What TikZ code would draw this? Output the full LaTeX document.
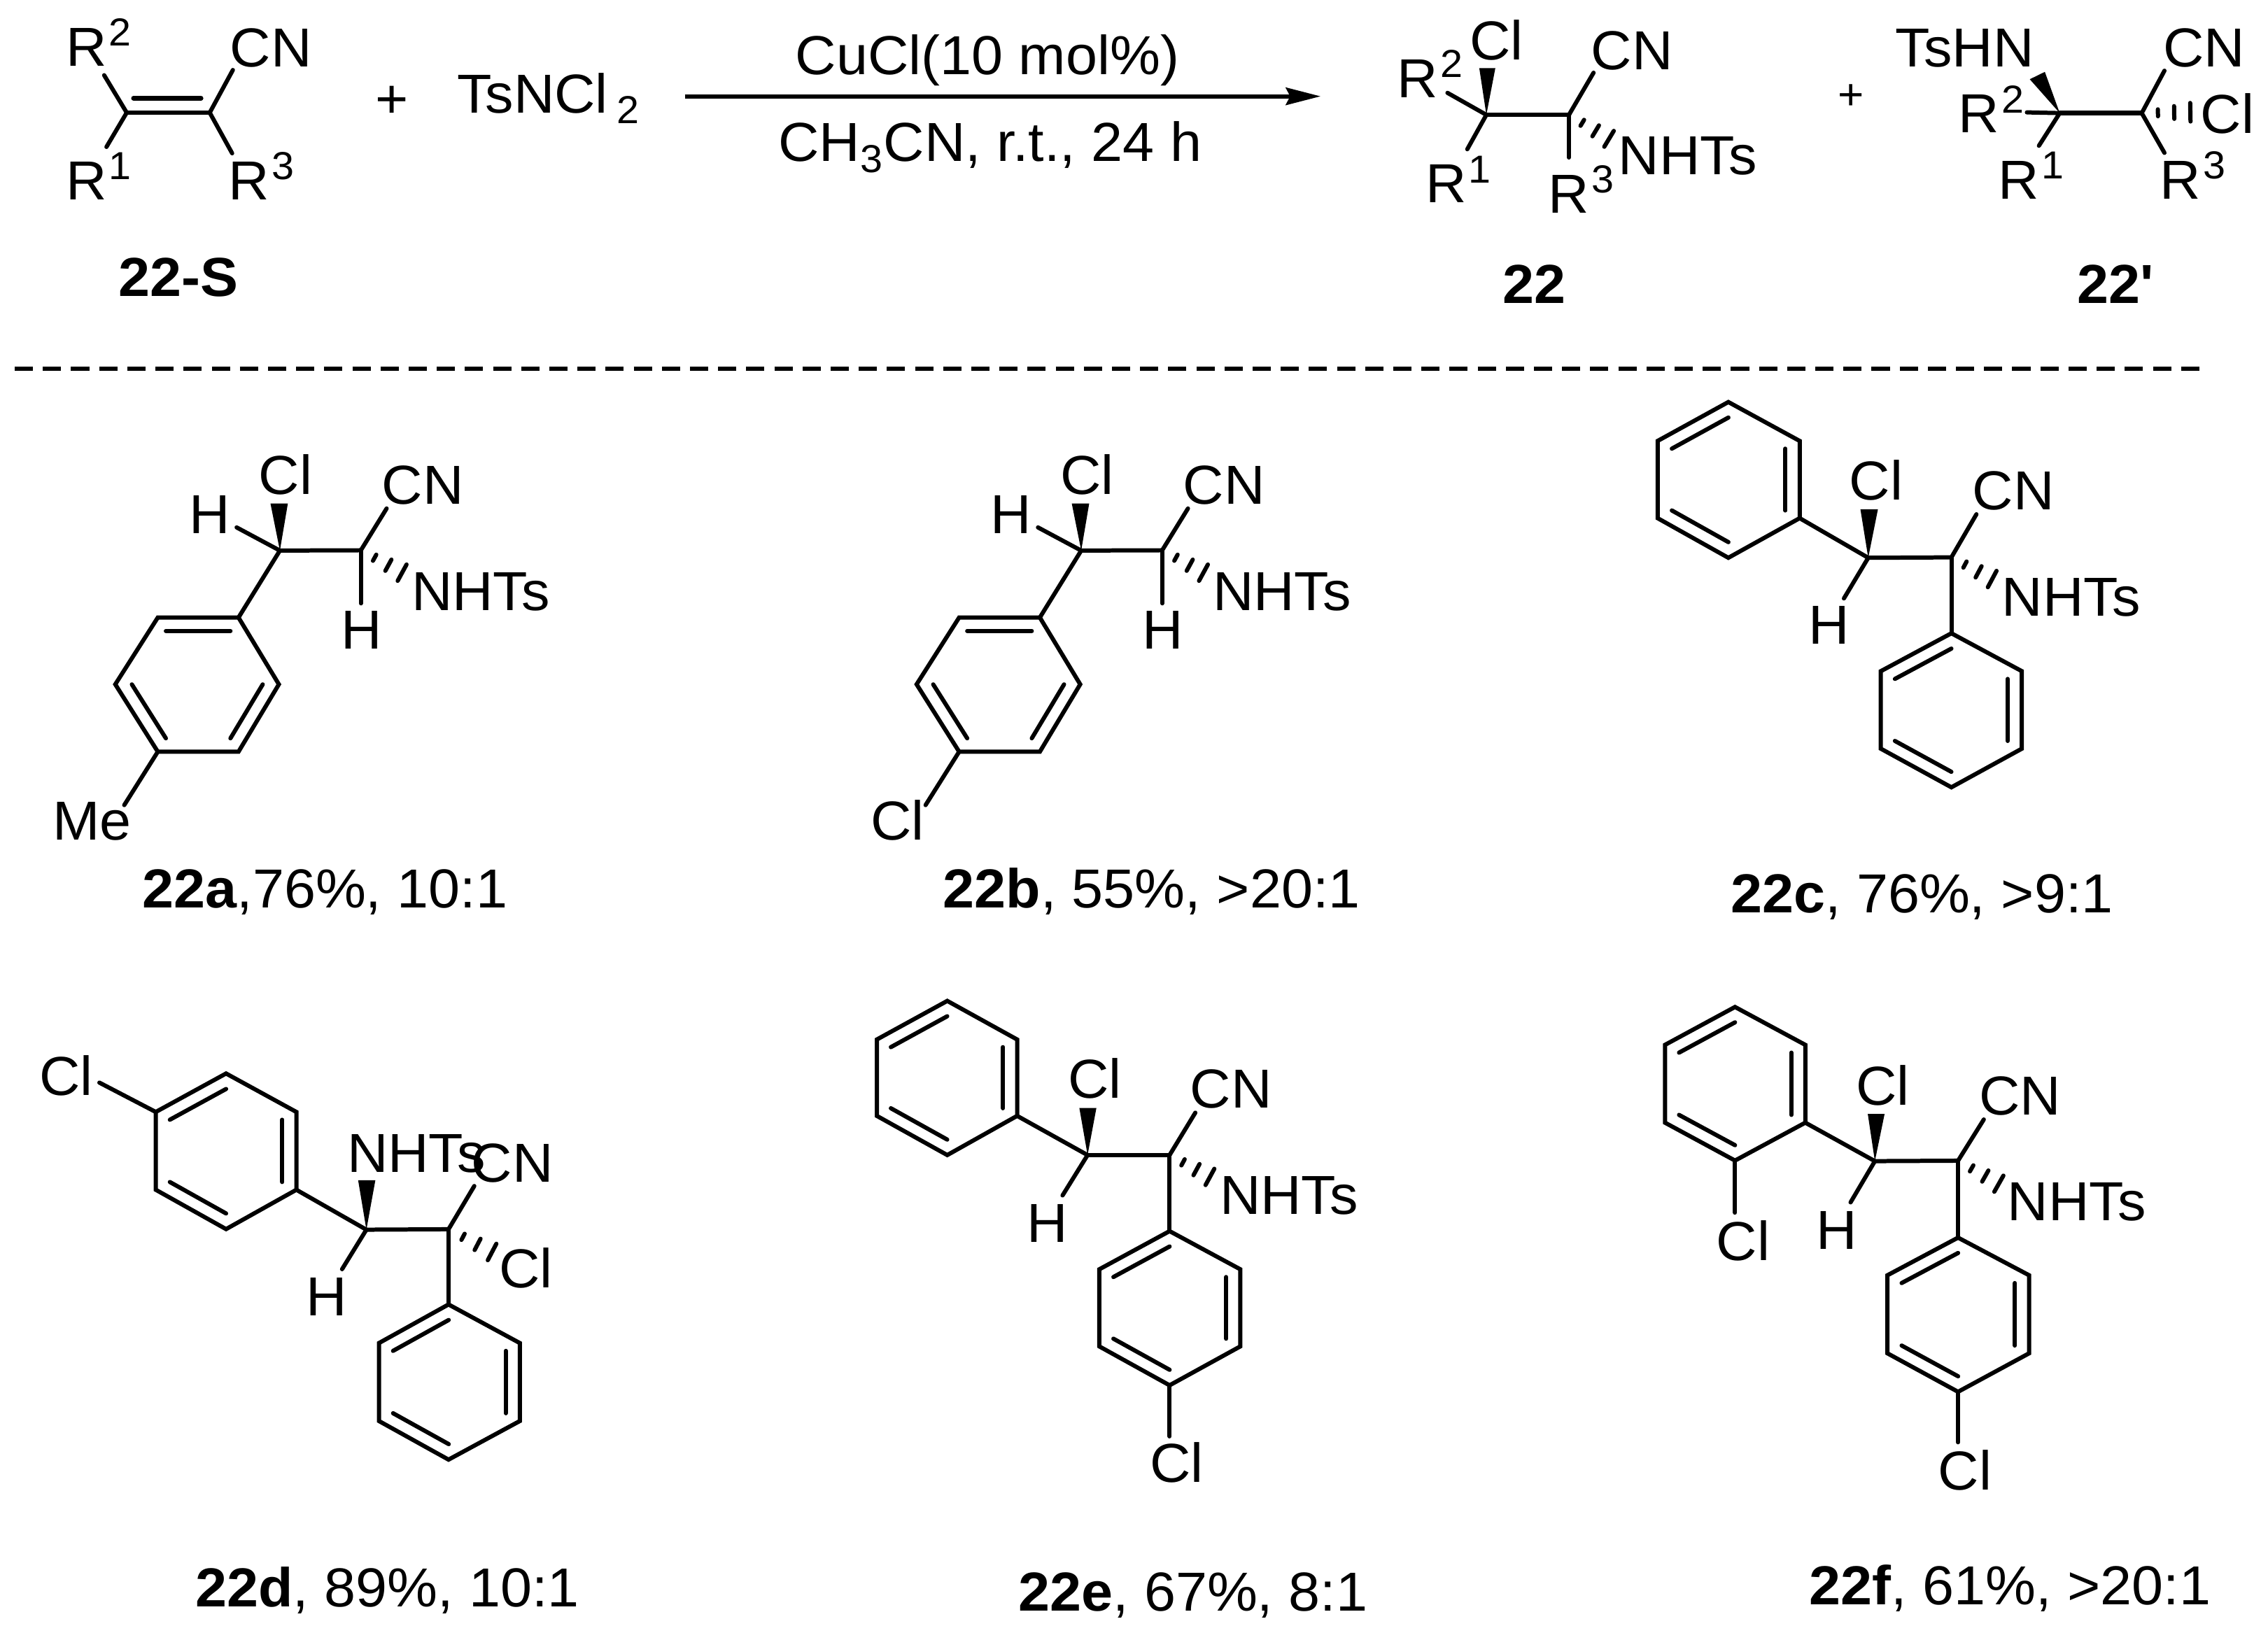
\documentclass[tikz,border=0pt]{standalone}
\usepackage{fontspec}
\setmainfont[FakeStretch=1.03]{Liberation Sans}
\newfontfamily\rawsans[FakeStretch=1.03]{Liberation Sans}
\usetikzlibrary{calc,arrows.meta}
\tikzset{
  lab/.style={inner sep=0pt,outer sep=0pt,anchor=base west,font=\fontsize{38}{44}\selectfont},
  bond/.style={line width=2.9pt,line cap=round,line join=miter,draw=black},
  hashbar/.style={line width=2.9pt,line cap=round,draw=black},
  midbond/.style={line width=3.2pt,line cap=round,draw=black},
  sep/.style={line width=2.9pt,dash pattern=on 12.6pt off 6.85pt,draw=black},
  rxn/.style={line width=2.9pt,draw=black,-{Stealth[length=24pt,width=12pt,inset=3pt]}},
}
\newcommand\Lab[4]{\node[lab] (#1) at (#2,#3) {#4};}
\newcommand\SupN[1]{\hspace{1.5pt}\raisebox{14pt}{\fontsize{27}{27}\selectfont #1}}
\newcommand\SubN[1]{\hspace{6pt}\raisebox{-7.5pt}{\fontsize{27}{27}\selectfont #1}}
\newcommand\Bd[3]{\coordinate (#2) at (#3);\draw[bond] (#1) -- (#2);}
\newcommand\Wedge[4]{\fill[black] (#1) -- (#3) -- (#4) -- cycle;\coordinate (#2) at ($(#3)!.5!(#4)$);}
\newcommand\HashW[2]{%
  \coordinate (hfar) at ($(#1)!2!(#2)$);
  \foreach \f/\h in {.333/2.4,.667/4.4,1/6.4}{%
    \coordinate (hc) at ($(#1)!\f!(#2)$);
    \draw[hashbar] ($(hc)!\h pt!90:(hfar)$) -- ($(hc)!\h pt!-90:(hfar)$);
  }}
\newcommand\Ring[7]{%
  \coordinate (#1a) at (#2);\coordinate (#1b) at (#3);\coordinate (#1c) at (#4);
  \coordinate (#1d) at (#5);\coordinate (#1e) at (#6);\coordinate (#1f) at (#7);
  \coordinate (#1o) at ($(#1a)!.5!(#1d)$);
  \draw[bond] (#1a) -- (#1b) -- (#1c) -- (#1d) -- (#1e) -- (#1f) -- cycle;
  \draw[bond] ($(#1o)!.8!(#1a)$) -- ($(#1o)!.8!(#1b)$);
  \draw[bond] ($(#1o)!.8!(#1c)$) -- ($(#1o)!.8!(#1d)$);
  \draw[bond] ($(#1o)!.8!(#1e)$) -- ($(#1o)!.8!(#1f)$);
}
\begin{document}
\begin{tikzpicture}[x=1pt,y=-1pt]
\path[fill=white,use as bounding box] (0,0) rectangle (1568,1124);

% ---- substrate 22-S
\coordinate (sA) at (87.6,77.9);\coordinate (sB) at (145,77.9);
\draw[midbond] (sA) -- (sB);
\coordinate (sD1) at (92.3,67.9);\coordinate (sD2) at (139,67.9);
\draw[midbond] (sD1) -- (sD2);
\Bd{sA}{sR2}{72,52}
\Bd{sA}{sR1}{73.6,101.6}
\Bd{sB}{sCN}{161,48.4}
\Bd{sB}{sR3}{160.5,106}
\Lab{tSR2}{45.5}{45.6}{R\SupN{2}}
\Lab{tSCN}{159}{46}{CN}
\Lab{tSR1}{45.5}{138}{R\SupN{1}}
\Lab{tSR3}{158}{138}{R\SupN{3}}
\Lab{tS}{82}{205}{\textbf{22-S}}
\node[lab,anchor=center] (plusA) at (271,70.5) {+};
\Lab{tTs}{316}{78}{TsNCl\SubN{2}}

% ---- arrow
\coordinate (arA) at (473.5,66.6);\coordinate (arB) at (913,66.6);
\draw[rxn] (arA) -- (arB);
\Lab{tCu}{550}{51.3}{CuCl(10 mol\%)}
\Lab{tMe}{538}{111.6}{CH\hspace{0.5pt}\raisebox{-7.5pt}{\fontsize{27}{27}\selectfont 3}\hspace{0.5pt}CN, r.t., 24 h}

% ---- product 22
\coordinate (pA) at (1027.6,79.4);\coordinate (pB) at (1084.7,79.4);
\draw[midbond] (pA) -- (pB);
\Wedge{pA}{pW}{1022.7,47.1}{1033.8,47.1}
\Bd{pA}{pR2}{1000.7,64.2}
\Bd{pA}{pR1}{1014.4,103.2}
\Bd{pB}{pCN}{1101.7,50.3}
\Bd{pB}{pR3}{1084.7,108.9}
\coordinate (pH) at (1112.4,96);
\HashW{pB}{pH}
\Lab{tPCl}{1016}{41.5}{Cl}
\Lab{tPR2}{966}{67.7}{R\SupN{2}}
\Lab{tPCN}{1100}{47.9}{CN}
\Lab{tPN}{1119}{120.7}{NHTs}
\Lab{tPR1}{985.7}{140.3}{R\SupN{1}}
\Lab{tPR3}{1070.5}{147.1}{R\SupN{3}}
\Lab{tP}{1039}{209.7}{\textbf{22}}
\node[lab,anchor=center,font=\fontsize{30}{34}\selectfont] (plusB) at (1279.6,67) {+};

% ---- product 22'
\coordinate (qA) at (1424,78.2);\coordinate (qB) at (1480.7,78.2);
\draw[midbond] (qA) -- (qB);
\Wedge{qA}{qW}{1413.7,49.7}{1403.3,54.8}
\Bd{qA}{qR2}{1401.3,77.7}
\Bd{qA}{qR1}{1409.6,100.8}
\Bd{qB}{qCN}{1496.4,48.9}
\Bd{qB}{qR3}{1496.4,105.7}
\coordinate (qH) at (1514.3,77.6);
\HashW{qB}{qH}
\Lab{tQN}{1310.5}{46.3}{TsHN}
\Lab{tQCN}{1495.5}{46}{CN}
\Lab{tQCl}{1521.5}{92.3}{Cl}
\Lab{tQR2}{1354}{91.9}{R\SupN{2}}
\Lab{tQR1}{1381.7}{137.6}{R\SupN{1}}
\Lab{tQR3}{1493.4}{137.6}{R\SupN{3}}
\Lab{tQ}{1436}{209.7}{{\rawsans\bfseries 22'}}

% ---- separator
\coordinate (lnA) at (10.2,254.8);\coordinate (lnB) at (1521,254.8);
\draw[sep] (lnA) -- (lnB);

% ---- 22a
\coordinate (aA) at (193.5,380.7);\coordinate (aB) at (249.5,380.5);
\draw[bond] (aA) -- (aB);
\Wedge{aA}{aW}{187,348.2}{199,348.2}
\Bd{aA}{aH}{163.6,364.7}
\Bd{aB}{aCN}{267.3,351.6}
\Bd{aB}{aHb}{249.5,417.2}
\coordinate (aN) at (278,396);
\HashW{aB}{aN}
\Ring{aR}{109.1,427}{164.9,427}{192.8,473.2}{164.9,519.8}{109.1,519.8}{79.7,473.2}
\draw[bond] (aA) -- (aRb);
\Bd{aRe}{aMe}{85.9,556.7}
\Lab{taCl}{179}{341.7}{Cl}
\Lab{taH}{131}{368.8}{H}
\Lab{taCN}{264}{348.8}{CN}
\Lab{taN}{284.5}{422}{NHTs}
\Lab{taHb}{236}{448.6}{H}
\Lab{taMe}{36.5}{580.6}{Me}
\Lab{taCap}{98.5}{627.7}{\textbf{22a},76\%, 10:1}

% ---- 22b
\coordinate (bA) at (747.5,380.7);\coordinate (bB) at (803.5,380.5);
\draw[bond] (bA) -- (bB);
\Wedge{bA}{bW}{741,348.2}{753,348.2}
\Bd{bA}{bH}{717.6,364.7}
\Bd{bB}{bCN}{821.3,351.6}
\Bd{bB}{bHb}{803.5,417.2}
\coordinate (bN) at (832,396);
\HashW{bB}{bN}
\Ring{bR}{663.1,427}{718.9,427}{746.8,473.2}{718.9,519.8}{663.1,519.8}{633.7,473.2}
\draw[bond] (bA) -- (bRb);
\Bd{bRe}{bCl}{639.9,556.7}
\Lab{tbCl}{733}{341.7}{Cl}
\Lab{tbH}{685}{368.8}{H}
\Lab{tbCN}{818}{348.8}{CN}
\Lab{tbN}{838.5}{422}{NHTs}
\Lab{tbHb}{790}{448.6}{H}
\Lab{tbClb}{602}{580.6}{Cl}
\Lab{tbCap}{652}{627.7}{\textbf{22b}, 55\%, >20:1}

% ---- 22c
\coordinate (cA) at (1291.6,385.7);\coordinate (cB) at (1349.1,385.4);
\draw[bond] (cA) -- (cB);
\Wedge{cA}{cW}{1286.2,352.2}{1298.3,352.2}
\Bd{cA}{cH}{1274.8,413.8}
\Bd{cB}{cCN}{1366.4,355.6}
\coordinate (cN) at (1377.3,400.4);
\HashW{cB}{cN}
\Ring{cR}{1146,304.9}{1194.9,278}{1244.2,304.9}{1244.2,358.3}{1194.9,385.7}{1146,358.3}
\draw[bond] (cA) -- (cRd);
\Ring{cS}{1300.3,464.1}{1349.1,437.9}{1397.8,464.1}{1397.8,517.7}{1349.1,544.4}{1300.3,517.7}
\draw[bond] (cB) -- (cSb);
\Lab{tcCl}{1278.5}{345.5}{Cl}
\Lab{tcH}{1250.4}{445.5}{H}
\Lab{tcCN}{1363.8}{352.6}{CN}
\Lab{tcN}{1384}{425.8}{NHTs}
\Lab{tcCap}{1196.5}{631}{\textbf{22c}, 76\%, >9:1}

% ---- 22d
\coordinate (dA) at (253.3,850.3);\coordinate (dB) at (310.1,850);
\draw[bond] (dA) -- (dB);
\Wedge{dA}{dW}{247.6,816.1}{259.5,816.1}
\Bd{dA}{dH}{236.5,877.6}
\Bd{dB}{dCN}{327.9,820.1}
\coordinate (dN) at (340.2,865.7);
\HashW{dB}{dN}
\Ring{dR}{107.7,768.9}{156.3,742.3}{204.9,768.9}{204.9,822.7}{156.3,849.9}{107.7,822.7}
\draw[bond] (dA) -- (dRd);
\Bd{dRa}{dClb}{68.7,748.6}
\Ring{dS}{262,928.7}{310.1,902}{359.4,928.7}{359.4,982.6}{310.1,1009.3}{262,982.6}
\draw[bond] (dB) -- (dSb);
\Lab{tdClb}{27.3}{757.5}{Cl}
\Lab{tdN}{240}{810.4}{NHTs}
\Lab{tdH}{211.8}{909.6}{H}
\Lab{tdCN}{326}{817.3}{CN}
\Lab{tdCl}{345.2}{890.2}{Cl}
\Lab{tdCap}{135}{1111}{\textbf{22d}, 89\%, 10:1}

% ---- 22e
\coordinate (eA) at (751.9,798.7);\coordinate (eB) at (808.6,798.7);
\draw[bond] (eA) -- (eB);
\Wedge{eA}{eW}{746.2,766.1}{758,766.1}
\Bd{eA}{eH}{734.6,826.6}
\Bd{eB}{eCN}{826.4,769.4}
\coordinate (eN) at (836.5,813.8);
\HashW{eB}{eN}
\Ring{eR}{606.2,718.8}{654.9,692.1}{703.2,718.8}{703.2,771.6}{654.9,798.7}{606.2,771.6}
\draw[bond] (eA) -- (eRd);
\Ring{eS}{760,877.7}{808.6,851.3}{857.5,877.7}{857.5,931}{808.6,957.9}{760,931}
\draw[bond] (eB) -- (eSb);
\Bd{eSe}{eClb}{808.6,993.2}
\Lab{teCl}{738.4}{759.5}{Cl}
\Lab{teH}{709.9}{859.2}{H}
\Lab{teCN}{822.8}{766.1}{CN}
\Lab{teN}{843.3}{839.4}{NHTs}
\Lab{teClb}{795.1}{1025}{Cl}
\Lab{teCap}{704}{1114}{\textbf{22e}, 67\%, 8:1}

% ---- 22f
\coordinate (fA) at (1296.2,802.9);\coordinate (fB) at (1353.7,802.6);
\draw[bond] (fA) -- (fB);
\Wedge{fA}{fW}{1291.3,770.3}{1302.9,770.3}
\Bd{fA}{fH}{1279.4,831.4}
\Bd{fB}{fCN}{1371.5,774.1}
\coordinate (fN) at (1381.9,818.5);
\HashW{fB}{fN}
\Ring{fR}{1151.1,722.5}{1199.5,696.3}{1248.1,722.5}{1248.1,776.3}{1199.5,802.5}{1151.1,776.3}
\draw[bond] (fA) -- (fRd);
\Bd{fRe}{fClb}{1199.5,838.5}
\Ring{fS}{1304.9,881.8}{1353.7,855.8}{1402.8,881.8}{1402.8,935.8}{1353.7,962.4}{1304.9,935.8}
\draw[bond] (fB) -- (fSb);
\Bd{fSe}{fClc}{1353.7,997.3}
\Lab{tfCl}{1283.2}{764.3}{Cl}
\Lab{tfClb}{1186.7}{871.5}{Cl}
\Lab{tfH}{1255.5}{863.6}{H}
\Lab{tfCN}{1368.4}{771}{CN}
\Lab{tfN}{1388}{844.2}{NHTs}
\Lab{tfClc}{1340}{1030}{Cl}
\Lab{tfCap}{1251}{1109.5}{\textbf{22f}, 61\%, >20:1}
\end{tikzpicture}
\end{document}
